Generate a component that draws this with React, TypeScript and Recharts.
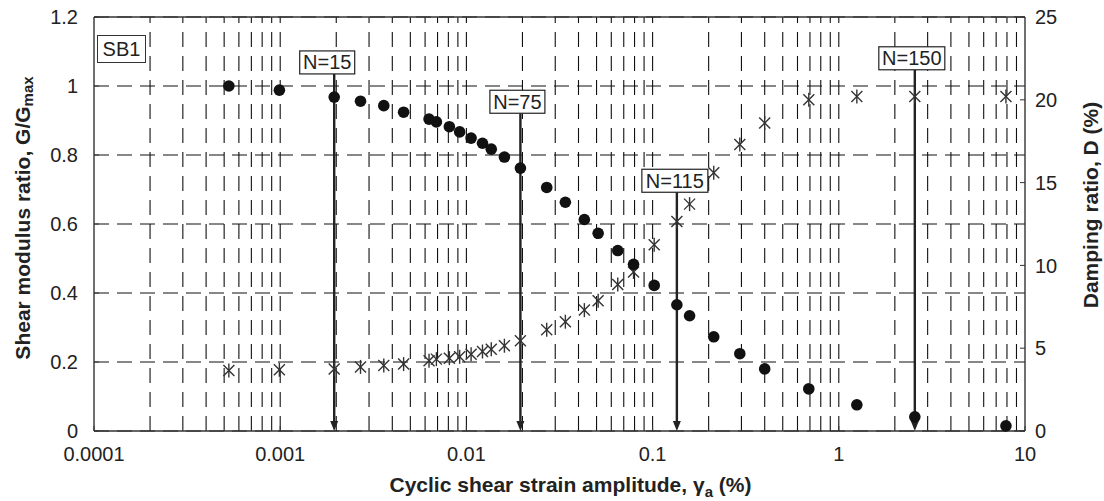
import React from 'react';
import { ScatterChart, Scatter, XAxis, YAxis, CartesianGrid, ReferenceLine } from 'recharts';

// Cyclic shear strain amplitude (%)
const strain = [
  0.00053, 0.00099, 0.00195, 0.0027, 0.0036, 0.0046, 0.0063, 0.0069, 0.0081, 0.0092,
  0.0106, 0.0122, 0.0136, 0.016, 0.0195, 0.027, 0.034, 0.043, 0.051, 0.065,
  0.079, 0.102, 0.135, 0.158, 0.213, 0.294, 0.4, 0.69, 1.25, 2.56, 7.9,
];
// Shear modulus ratio G/Gmax
const gRatio = [
  1.0, 0.988, 0.968, 0.956, 0.943, 0.924, 0.904, 0.896, 0.882, 0.867,
  0.849, 0.834, 0.817, 0.794, 0.762, 0.706, 0.663, 0.613, 0.573, 0.523,
  0.483, 0.422, 0.366, 0.334, 0.273, 0.224, 0.18, 0.122, 0.076, 0.041, 0.015,
];
// Damping ratio D (%)
const damping = [
  3.65, 3.7, 3.75, 3.87, 3.95, 4.04, 4.24, 4.34, 4.4, 4.48,
  4.64, 4.8, 4.94, 5.15, 5.45, 6.11, 6.6, 7.3, 7.87, 8.84,
  9.6, 11.25, 12.65, 13.7, 15.6, 17.3, 18.6, 20.0, 20.2, 20.2, 20.2,
];

const xTicks = [0.0001, 0.001, 0.01, 0.1, 1, 10];
const gTicks = [0, 0.2, 0.4, 0.6, 0.8, 1, 1.2];
const dTicks = [0, 5, 10, 15, 20, 25];
const decades = [0.0001, 0.001, 0.01, 0.1, 1];
const multiples = [1, 2, 3, 4, 5, 6, 7, 8, 9];

// Cycle-number annotations
const cycleLabels = ['N=15', 'N=75', 'N=115', 'N=150'];
const cycleStrain = [0.00195, 0.0195, 0.135, 2.56];
const cycleTopG = [1.035, 0.921, 0.692, 1.047];

const rows = strain.map((x, i) => ({ x, g: gRatio[i], d: damping[i] }));
const gridX = decades.flatMap((d) => multiples.map((m) => m * d)).filter((v) => v > 0.00011);

const FONT = '"Liberation Sans", Arial, Helvetica, sans-serif';
const INK = '#222';

const boxShift: Record<string, number> = { 'N=15': -7, 'N=75': -3, 'N=115': -2, 'N=150': -3 };

const makeArrow = (label: string) => (p: any) => {
  const x = p.x1;
  const top = Math.min(p.y1, p.y2);
  const bottom = Math.max(p.y1, p.y2);
  const w = label.length * 11 + 11;
  const h = 23;
  const cx = x + (boxShift[label] || 0);
  return (
    <g>
      <line x1={x} y1={top} x2={x} y2={bottom - 8} stroke={INK} strokeWidth={2.4} />
      <polygon points={`${x - 4},${bottom - 10} ${x + 4},${bottom - 10} ${x},${bottom}`} fill={INK} />
      <rect x={cx - w / 2} y={top - h} width={w} height={h} fill="#fff" stroke={INK} strokeWidth={1.2} />
      <text x={cx} y={top - h / 2} textAnchor="middle" dominantBaseline="central" fontSize={20} fontFamily={FONT} fill={INK}>
        {label}
      </text>
    </g>
  );
};

const Dot = (p: any) => <circle cx={p.cx} cy={p.cy} r={5.8} fill="#111" />;
const Star = (p: any) => {
  const { cx, cy } = p;
  const a = 5.5;
  const h = 7;
  return (
    <g stroke="#333" strokeWidth={1.4}>
      <line x1={cx - a} y1={cy - a} x2={cx + a} y2={cy + a} />
      <line x1={cx - a} y1={cy + a} x2={cx + a} y2={cy - a} />
      <line x1={cx} y1={cy - h} x2={cx} y2={cy + h} />
    </g>
  );
};

const tickStyle = { fontSize: 20, fill: INK, fontFamily: FONT };

export default function App() {
  return (
    <div style={{ position: 'absolute', left: 0, top: 0, width: 1104, height: 501, background: '#fff' }}>
      <ScatterChart width={1104} height={501} margin={{ top: 17, right: 19, bottom: 30, left: 34 }}>
        <CartesianGrid vertical={false} yAxisId="left" stroke="#111" strokeWidth={1.1} strokeDasharray="15 8" />
        {gridX.map((v) => (
          <ReferenceLine key={v} x={v} yAxisId="left" stroke="#111" strokeWidth={1.1} strokeDasharray="15 9" />
        ))}
        <ReferenceLine y={1.2} yAxisId="left" stroke="#333" strokeWidth={1.4} />
        <XAxis
          type="number"
          dataKey="x"
          scale="log"
          domain={[0.0001, 10]}
          ticks={xTicks}
          allowDataOverflow
          height={40}
          stroke="#333"
          axisLine={{ stroke: '#333', strokeWidth: 1.4 }}
          tickSize={-5}
          tickMargin={21}
          tick={tickStyle}
          tickFormatter={(v: number) => String(v)}
          label={{
            content: (props: any) => {
              const vb = props.viewBox;
              return (
                <text x={vb.x + vb.width / 2 + 11} y={492} textAnchor="middle" fontSize={21} fontWeight="bold" fontFamily={FONT} fill={INK}>
                  Cyclic shear strain amplitude, γ
                  <tspan dy={5} fontSize={15}>a</tspan>
                  <tspan dy={-5}> (%)</tspan>
                </text>
              );
            },
          }}
        />
        <YAxis
          yAxisId="left"
          type="number"
          dataKey="g"
          domain={[0, 1.2]}
          ticks={gTicks}
          width={60}
          axisLine={{ stroke: '#333', strokeWidth: 1.4 }}
          stroke="#333"
          tickSize={-5}
          tickMargin={21}
          tick={tickStyle}
          label={{
            content: () => (
              <text transform="translate(22,218) rotate(-90)" x={0} y={0} textAnchor="middle" dominantBaseline="central" fontSize={21} fontWeight="bold" fontFamily={FONT} fill={INK}>
                Shear modulus ratio, G/G
                <tspan dy={5} fontSize={15}>max</tspan>
              </text>
            ),
          }}
        />
        <YAxis
          yAxisId="right"
          orientation="right"
          type="number"
          dataKey="d"
          domain={[0, 25]}
          ticks={dTicks}
          width={60}
          axisLine={{ stroke: '#333', strokeWidth: 1.4 }}
          stroke="#333"
          tickSize={-5}
          tickMargin={15}
          tick={tickStyle}
          label={{
            content: () => (
              <text transform="translate(1090,205) rotate(-90)" x={0} y={0} textAnchor="middle" dominantBaseline="central" fontSize={21} fontWeight="bold" fontFamily={FONT} fill={INK}>
                Damping ratio, D (%)
              </text>
            ),
          }}
        />
        <Scatter data={rows} yAxisId="right" shape={Star} isAnimationActive={false} />
        <Scatter data={rows} yAxisId="left" shape={Dot} isAnimationActive={false} />
        {cycleLabels.map((lab, i) => (
          <ReferenceLine
            key={lab}
            yAxisId="left"
            segment={[
              { x: cycleStrain[i], y: cycleTopG[i] },
              { x: cycleStrain[i], y: 0 },
            ]}
            shape={makeArrow(lab)}
          />
        ))}
      </ScatterChart>
      <div
        style={{
          position: 'absolute',
          left: 97,
          top: 35,
          width: 49,
          height: 28,
          boxSizing: 'border-box',
          border: '1.3px solid #333',
          background: '#fff',
          fontFamily: FONT,
          fontSize: 20,
          color: INK,
          display: 'flex',
          alignItems: 'center',
          justifyContent: 'center',
          lineHeight: 1,
        }}
      >
        SB1
      </div>
    </div>
  );
}
